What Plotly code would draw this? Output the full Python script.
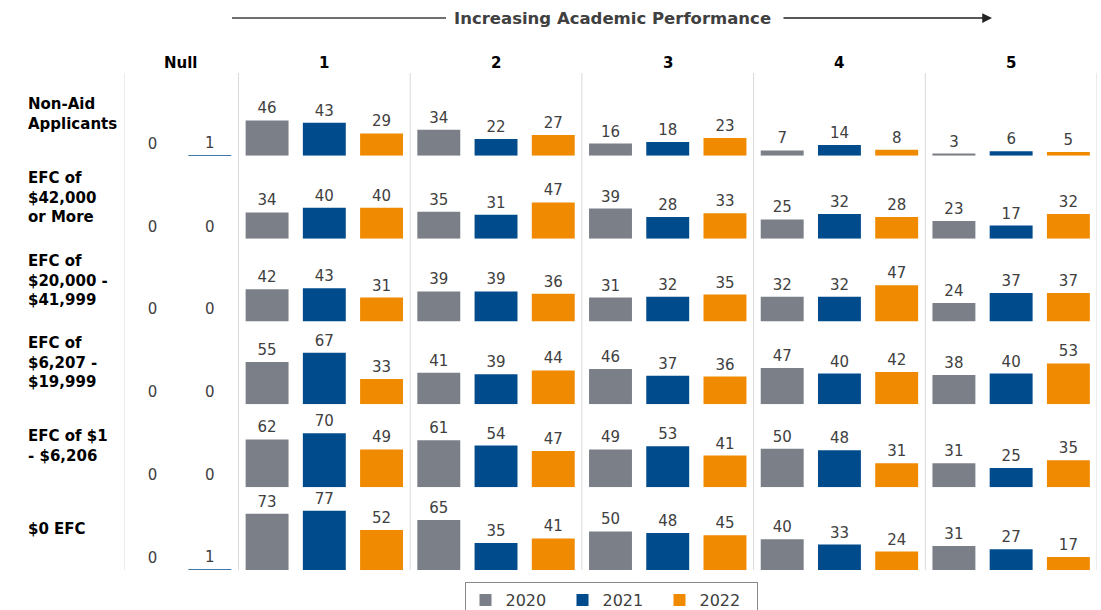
import plotly.graph_objects as go
from plotly.subplots import make_subplots

groups = ["Null", "1", "2", "3", "4", "5"]
years = ["2020", "2021", "2022"]
row_labels = [
    "Non-Aid<br>Applicants",
    "EFC of<br>$42,000<br>or More",
    "EFC of<br>$20,000 -<br>$41,999",
    "EFC of<br>$6,207 -<br>$19,999",
    "EFC of $1<br>- $6,206",
    "$0 EFC",
]
# values per row, per group (Null, 1..5)
vals_2020 = [
    [0, 46, 34, 16, 7, 3],
    [0, 34, 35, 39, 25, 23],
    [0, 42, 39, 31, 32, 24],
    [0, 55, 41, 46, 47, 38],
    [0, 62, 61, 49, 50, 31],
    [0, 73, 65, 50, 40, 31],
]
vals_2021 = [
    [1, 43, 22, 18, 14, 6],
    [0, 40, 31, 28, 32, 17],
    [0, 43, 39, 32, 32, 37],
    [0, 67, 39, 37, 40, 40],
    [0, 70, 54, 53, 48, 25],
    [1, 77, 35, 48, 33, 27],
]
# 2022 has no Null group (groups 1..5)
vals_2022 = [
    [29, 27, 23, 8, 5],
    [40, 47, 33, 28, 32],
    [31, 36, 35, 47, 37],
    [33, 44, 36, 42, 53],
    [49, 47, 41, 31, 35],
    [52, 41, 45, 24, 17],
]
colors = {"2020": "#7b7f87", "2021": "#004b8c", "2022": "#f08a00"}

# category order: Null has 2020, 2021; others have all three
cat_order = []
for g in groups:
    for y in years:
        if g == "Null" and y == "2022":
            continue
        cat_order.append(f"{g}-{y}")

n_rows = len(row_labels)
fig = make_subplots(rows=n_rows, cols=1, shared_xaxes=True, vertical_spacing=0)

series = {"2020": (groups, vals_2020), "2021": (groups, vals_2021), "2022": (groups[1:], vals_2022)}
for r in range(n_rows):
    for y in years:
        gs, vals = series[y]
        fig.add_trace(
            go.Bar(
                x=[f"{g}-{y}" for g in gs],
                y=vals[r],
                name=y,
                legendgroup=y,
                showlegend=(r == 0),
                marker=dict(color=colors[y], line=dict(width=0)),
                text=vals[r],
                textposition="outside",
                textfont=dict(size=15, color="#404040", family="DejaVu Sans"),
                constraintext="none",
                cliponaxis=False,
                hoverinfo="skip",
            ),
            row=r + 1,
            col=1,
        )

fig.update_layout(
    barmode="overlay",
    bargap=0.25,
    width=1101,
    height=610,
    margin=dict(l=124, r=4, t=73, b=40),
    plot_bgcolor="white",
    paper_bgcolor="white",
    font=dict(family="DejaVu Sans", size=15, color="#404040"),
    legend=dict(
        orientation="h",
        xref="container",
        yref="container",
        x=(469 + 753) / 2 / 1101,
        xanchor="center",
        y=1 - 582 / 610,
        yanchor="top",
        bordercolor="#8a8a8a",
        borderwidth=1,
        font=dict(size=16, color="#404040"),
        entrywidth=52,
        entrywidthmode="pixels",
        traceorder="normal",
    ),
)
fig.update_xaxes(
    type="category",
    categoryorder="array",
    categoryarray=cat_order,
    range=[-0.5, len(cat_order) - 0.5],
    showticklabels=False,
    showgrid=False,
    zeroline=False,
    showline=False,
    ticks="",
)
fig.update_yaxes(range=[0, 107.5], visible=False, showgrid=False, zeroline=False)

# group boundaries (vertical separators) and column headers
boundaries = [-0.5]
centers = []
idx = 0
for g in groups:
    n = 2 if g == "Null" else 3
    centers.append(idx + (n - 1) / 2)
    idx += n
    boundaries.append(idx - 0.5)

for b in boundaries:
    fig.add_shape(type="line", xref="x", yref="paper", x0=b, x1=b, y0=0, y1=1,
                  line=dict(color="#d9d9d9", width=1), layer="below")

for g, c in zip(groups, centers):
    fig.add_annotation(x=c, y=1.02, xref="x", yref="paper", text=f"<b>{g}</b>",
                       showarrow=False, font=dict(size=15, color="black"),
                       yanchor="middle")

# row labels
for r, lab in enumerate(row_labels):
    yd = "y domain" if r == 0 else f"y{r + 1} domain"
    fig.add_annotation(x=-0.1005, y=0.5, xref="paper", yref=yd, text=f"<b>{lab}</b>",
                       showarrow=False, xanchor="left", yanchor="middle", align="left",
                       font=dict(size=15, color="black"))

# top arrow with title
W = 973.0
H = 497.0
def px_x(p):
    return (p - 124) / W
def px_y(p):
    return (570 - p) / H

fig.add_shape(type="line", xref="paper", yref="paper", x0=px_x(232), x1=px_x(446),
              y0=px_y(18), y1=px_y(18), line=dict(color="#404040", width=1.5))
fig.add_annotation(x=px_x(612), y=px_y(18), xref="paper", yref="paper",
                   text="<b>Increasing Academic Performance</b>", showarrow=False,
                   font=dict(size=16.5, color="#404040"), yanchor="middle")
fig.add_annotation(x=px_x(992), y=px_y(18), xref="paper", yref="paper",
                   ax=-210, ay=0, axref="pixel", ayref="pixel", text="",
                   showarrow=True, arrowhead=2, arrowsize=1.3, arrowwidth=1.5,
                   arrowcolor="#222222")

fig.write_html("out.html")
